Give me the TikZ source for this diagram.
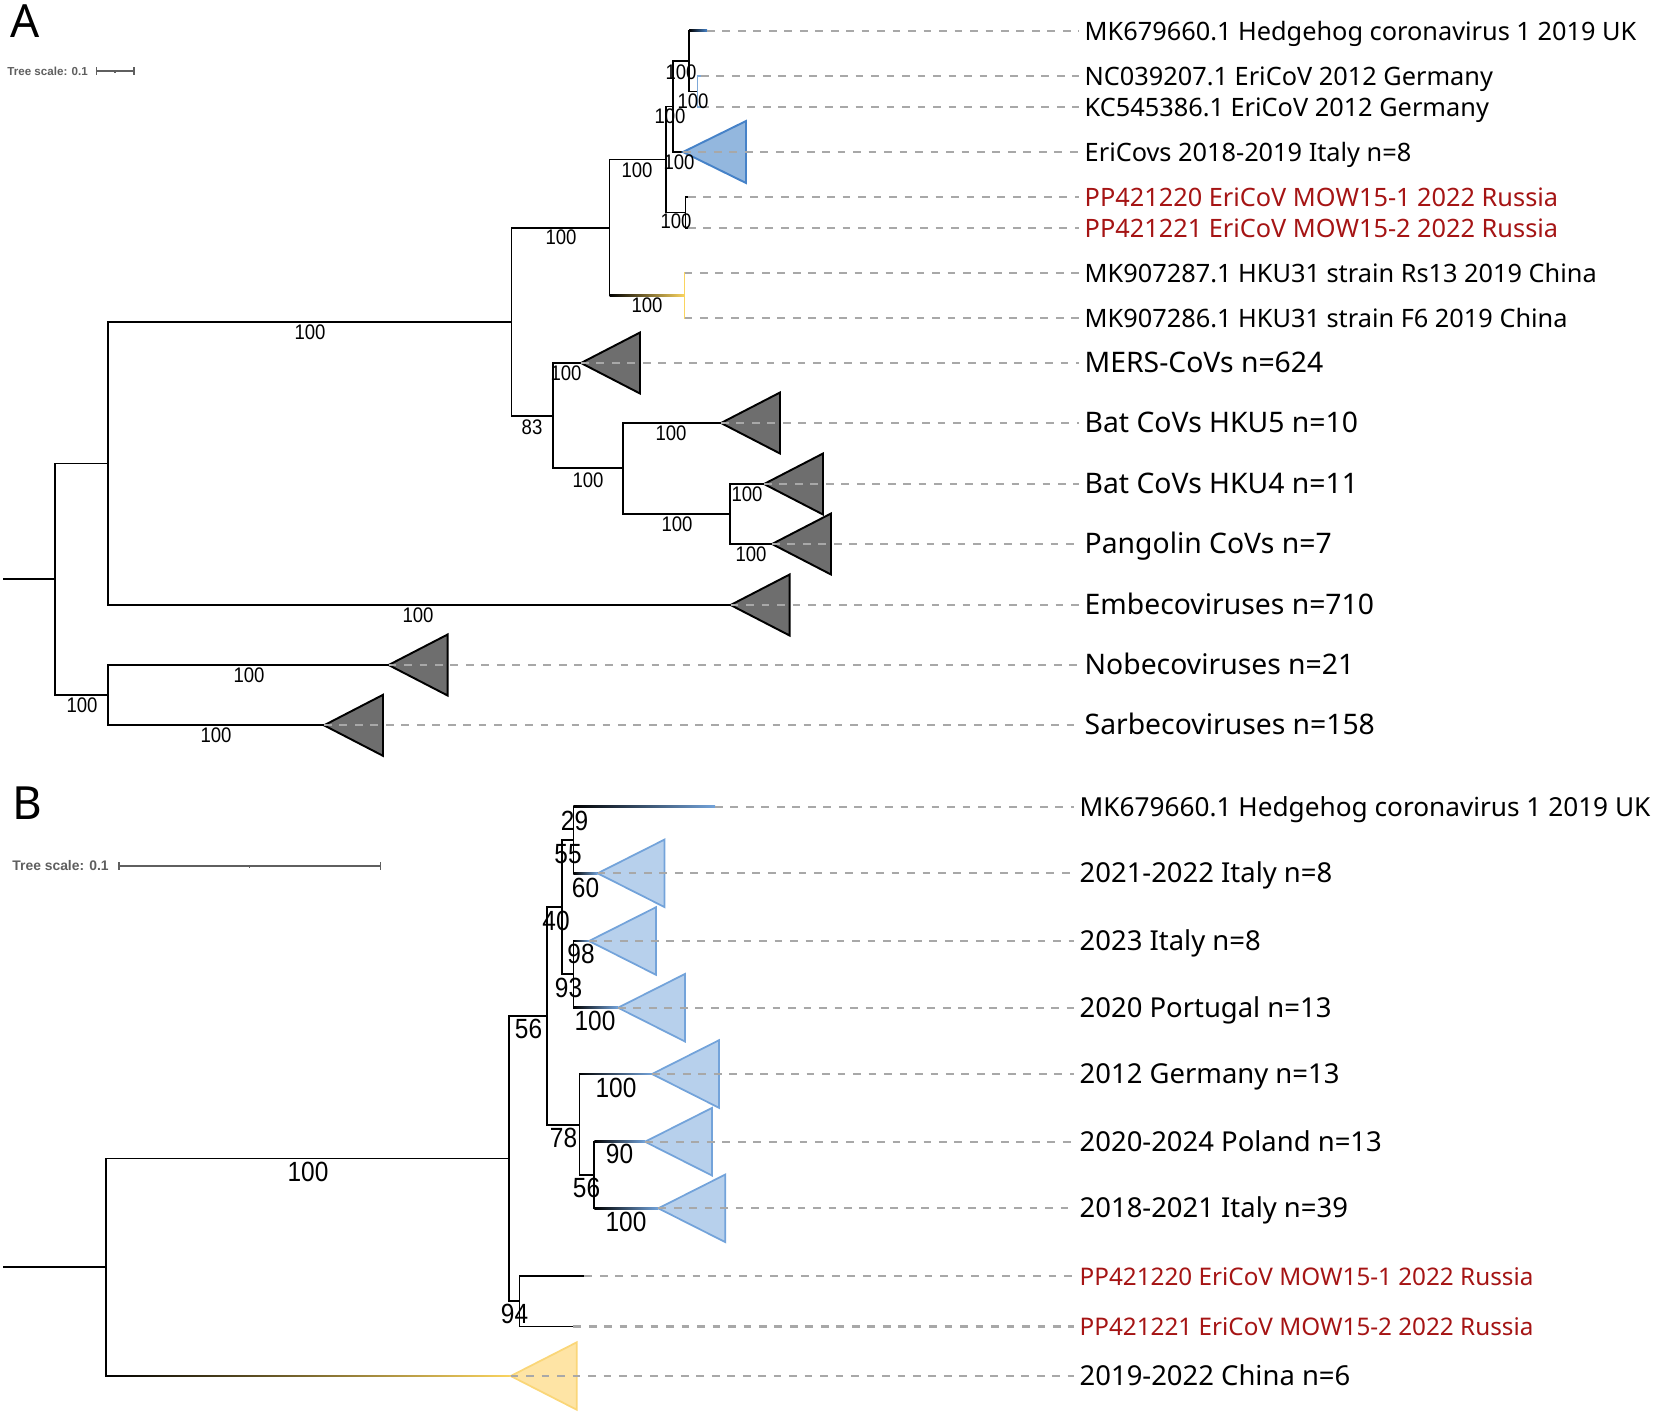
\documentclass[tikz,border=0pt]{standalone}
\usepackage{fontspec}
\setmainfont{Noto Sans}
\newfontfamily\numfont[FakeStretch=0.88]{Liberation Sans}
\newfontfamily\scalefont{Liberation Sans}
\usetikzlibrary{calc}

\definecolor{cladegray}{RGB}{110,110,110}
\definecolor{dashgray}{RGB}{168,168,168}
\definecolor{ruslabel}{RGB}{165,20,20}
\definecolor{itafill}{RGB}{147,183,222}
\definecolor{itadraw}{RGB}{70,130,200}
\definecolor{bfill}{RGB}{183,208,236}
\definecolor{bdraw}{RGB}{115,163,218}
\definecolor{hkuyel}{RGB}{250,212,95}
\definecolor{chinafill}{RGB}{254,228,165}
\definecolor{chinadraw}{RGB}{250,214,120}
\definecolor{scalegray}{RGB}{95,95,95}

% overlay that fades a horizontal branch from black into a colour
\newcommand{\fadebranch}[4]{%
  \shade[left color=black,right color=#3] ($(#1 |- #2)+(0,-#4)$) rectangle ($(#2)+(0,#4)$);}

\begin{document}
\begin{tikzpicture}[x=0.01cm,y=-0.01cm,
    branch/.style={line width=0.55pt,line cap=rect},
    branchB/.style={line width=0.5pt,line cap=rect},
    leafdash/.style={dashgray,line width=0.65pt,dash pattern=on 2.2pt off 2.2pt,shorten >=1.4pt},
    greyclade/.style={fill=cladegray,draw=black,line width=0.55pt},
    itaclade/.style={fill=itafill,draw=itadraw,line width=0.55pt},
    blueclade/.style={fill=bfill,draw=bdraw,line width=0.5pt},
    chinaclade/.style={fill=chinafill,draw=chinadraw,line width=0.5pt},
    leafA/.style={anchor=mid west,inner sep=0pt,font=\fontsize{7.2}{8}\selectfont},
    cladeA/.style={anchor=mid west,inner sep=0pt,font=\fontsize{8.05}{9}\selectfont},
    leafB/.style={anchor=mid west,inner sep=0pt,font=\fontsize{7.8}{9}\selectfont},
    supA/.style={inner sep=0pt,font=\numfont\fontsize{6}{6}\selectfont},
    supB/.style={inner sep=0pt,font=\numfont\fontsize{7.9}{8}\selectfont},
    scaletext/.style={anchor=west,inner sep=0pt,text=scalegray,font=\scalefont\bfseries#1},
    panel/.style={inner sep=0pt,font=\fontsize{13}{13}\selectfont}]
  \useasboundingbox (0,0) rectangle (1654,1414);

  % ---------------- panel A ----------------
  \node[panel] (pA) at (25.5,21) {A};
  \node[scaletext={\fontsize{3.3}{4}\selectfont}] (scA) at (6.7,71) {Tree scale: 0.1};
  \coordinate (scA1) at (96.7,71);
  \coordinate (scA2) at (134,71);
  \coordinate (scAm) at (115,71);
  \draw[scalegray,line width=0.3pt] (scA1) -- (scA2);
  \draw[scalegray,line width=0.3pt] ($(scA1)+(0,-4)$) -- ($(scA1)+(0,4)$);
  \draw[scalegray,line width=0.3pt] ($(scA2)+(0,-4)$) -- ($(scA2)+(0,4)$);
  \draw[scalegray,line width=0.3pt] (scAm) -- ($(scAm)+(0,2)$);

  % inner nodes
  \coordinate (rA0) at (4,579);
  \coordinate (rA) at (55,579);
  \coordinate (nA1) at (108,463.5);
  \coordinate (nA2) at (108,695);
  \coordinate (nA3) at (511.5,322);
  \coordinate (nA4) at (609.5,228);
  \coordinate (nA5) at (553,416);
  \coordinate (nA6) at (666,159.5);
  \coordinate (nA7) at (673,106.5);
  \coordinate (nA8) at (689,61);
  \coordinate (nA9) at (697.5,91.5);
  \coordinate (nRuA) at (685.5,212.5);
  \coordinate (nHku) at (684.5,295.5);
  \coordinate (nA10) at (623,468);
  \coordinate (nA11) at (730,514);
  % tips and collapsed clades
  \coordinate (lfA1) at (707,30.7);
  \coordinate (lfA2) at (701,76);
  \coordinate (lfA3) at (701,107);
  \coordinate (tItA) at (683,152);
  \coordinate (lfA5) at (688,197);
  \coordinate (lfA6) at (688,228);
  \coordinate (lfA7) at (684.5,273);
  \coordinate (lfA8) at (684.5,318);
  \coordinate (tMers) at (581,363);
  \coordinate (tHku5) at (721,423);
  \coordinate (tHku4) at (764,484);
  \coordinate (tPang) at (772,544);
  \coordinate (tEmb) at (730.6,605);
  \coordinate (tNobe) at (388.6,665);
  \coordinate (tSarb) at (324,725.3);

  \draw[branch] (rA0) -- (rA);
  \foreach \p/\c in {rA/nA1,rA/nA2,nA1/nA3,nA1/tEmb,nA3/nA4,nA3/nA5,nA4/nA6,nA4/nHku,
      nA6/nA7,nA6/nRuA,nA7/nA8,nA7/tItA,nA8/lfA1,nA8/nA9,nRuA/lfA5,nRuA/lfA6,
      nA5/tMers,nA5/nA10,nA10/tHku5,nA10/nA11,nA11/tHku4,nA11/tPang,nA2/tNobe,nA2/tSarb}
    \draw[branch] (\p) |- (\c);
  \foreach \c in {lfA2,lfA3}
    \draw[branch,itadraw!70] (nA9) |- (\c);
  \foreach \c in {lfA7,lfA8}
    \draw[branch,hkuyel] (nHku) |- (\c);
  \fadebranch{nA8}{lfA1}{itadraw}{0.95}
  \fadebranch{nA4}{nHku}{hkuyel}{0.95}

  % collapsed clades
  \foreach \t in {tMers,tHku5,tHku4,tPang,tEmb,tNobe,tSarb}
    \filldraw[greyclade] (\t) -- +(59,-30.5) -- +(59,30.5) -- cycle;
  \filldraw[itaclade] (tItA) -- +(63,-31) -- +(63,31) -- cycle;

  % labels and leader lines
  \foreach \tip/\y/\col/\txt [count=\i] in {
      lfA1/30.7/black/MK679660.1 Hedgehog coronavirus 1 2019 UK,
      lfA2/76/black/NC039207.1 EriCoV 2012 Germany,
      lfA3/107/black/KC545386.1 EriCoV 2012 Germany,
      tItA/152/black/EriCovs 2018-2019 Italy n=8,
      lfA5/197/ruslabel/PP421220 EriCoV MOW15-1 2022 Russia,
      lfA6/228/ruslabel/PP421221 EriCoV MOW15-2 2022 Russia,
      lfA7/273/black/MK907287.1 HKU31 strain Rs13 2019 China,
      lfA8/318/black/MK907286.1 HKU31 strain F6 2019 China}{
    \node[leafA,text=\col] (lA\i) at (1084,\y) {\txt};
    \draw[leafdash] (\tip) -- (lA\i.mid west);
  }
  \foreach \tip/\y/\txt [count=\i from 9] in {
      tMers/363/MERS-CoVs n=624,
      tHku5/423/Bat CoVs HKU5 n=10,
      tHku4/484/Bat CoVs HKU4 n=11,
      tPang/544/Pangolin CoVs n=7,
      tEmb/605/Embecoviruses n=710,
      tNobe/665/Nobecoviruses n=21,
      tSarb/725.3/Sarbecoviruses n=158}{
    \node[cladeA] (lA\i) at (1084,\y) {\txt};
    \draw[leafdash] (\tip) -- (lA\i.mid west);
  }

  % bootstrap values
  \foreach \x/\y/\v [count=\i] in {681/72/100,693/101/100,670/116/100,679/162/100,
      637/170/100,676/221/100,561/237/100,647/305/100,310/332/100,566/373/100,
      532/427/83,671/433/100,588/480/100,747/494.5/100,677/524.5/100,751/554.5/100,
      418/615.5/100,249/675.5/100,216/735/100,82/705/100}
    \node[supA] (sA\i) at (\x,\y) {\v};

  % ---------------- panel B ----------------
  \node[panel] (pB) at (27.5,803) {B};
  \node[scaletext={\fontsize{3.95}{5}\selectfont}] (scB) at (11.7,866) {Tree scale: 0.1};
  \coordinate (scB1) at (119,866);
  \coordinate (scB2) at (380.5,866);
  \coordinate (scBm) at (249.5,866);
  \draw[scalegray,line width=0.3pt] (scB1) -- (scB2);
  \draw[scalegray,line width=0.3pt] ($(scB1)+(0,-4)$) -- ($(scB1)+(0,4)$);
  \draw[scalegray,line width=0.3pt] ($(scB2)+(0,-4)$) -- ($(scB2)+(0,4)$);
  \draw[scalegray,line width=0.3pt] (scBm) -- ($(scBm)+(0,2)$);

  \coordinate (rB0) at (4,1267);
  \coordinate (rB) at (106,1267);
  \coordinate (nB1) at (509.3,1158.5);
  \coordinate (nB2) at (546.7,1016);
  \coordinate (nB3) at (562,906.7);
  \coordinate (nB4) at (579.5,1125);
  \coordinate (nB5) at (573.4,840);
  \coordinate (nB6) at (573.4,974.3);
  \coordinate (nB7) at (594.3,1175);
  \coordinate (nRuB) at (519.6,1301);
  \coordinate (lfB1) at (715,806.7);
  \coordinate (tIt21) at (597.6,873.3);
  \coordinate (tIt23) at (589,941);
  \coordinate (tPort) at (618,1007.7);
  \coordinate (tGer) at (652,1074);
  \coordinate (tPol) at (645,1141.7);
  \coordinate (tIt18) at (658.3,1208.3);
  \coordinate (lfB8) at (584.3,1275.7);
  \coordinate (lfB9) at (573.3,1326.5);
  \coordinate (tChina) at (510.7,1376);

  \draw[branchB] (rB0) -- (rB);
  \foreach \p/\c in {rB/nB1,rB/tChina,nB1/nB2,nB1/nRuB,nB2/nB3,nB2/nB4,nB3/nB5,nB3/nB6,
      nB5/lfB1,nB5/tIt21,nB6/tIt23,nB6/tPort,nB4/tGer,nB4/nB7,nB7/tPol,nB7/tIt18,
      nRuB/lfB8,nRuB/lfB9}
    \draw[branchB] (\p) |- (\c);
  \fadebranch{rB}{tChina}{hkuyel}{0.88}
  \fadebranch{nB5}{lfB1}{bdraw}{0.88}
  \foreach \p/\c in {nB5/tIt21,nB6/tIt23,nB6/tPort,nB4/tGer,nB7/tPol,nB7/tIt18}{
    \fadebranch{\p}{\c}{bdraw}{0.88}
  }

  \foreach \t in {tIt21,tIt23,tPort,tGer,tPol,tIt18}
    \filldraw[blueclade] (\t) -- +(67,-33.8) -- +(67,33.8) -- cycle;
  \filldraw[chinaclade] (tChina) -- +(66,-33.7) -- +(66,33.7) -- cycle;

  \foreach \tip/\y/\col/\sz/\txt [count=\i] in {
      lfB1/806.7/black/7.45/MK679660.1 Hedgehog coronavirus 1 2019 UK,
      tIt21/873.3/black/7.8/2021-2022 Italy n=8,
      tIt23/941/black/7.8/2023 Italy n=8,
      tPort/1007.7/black/7.8/2020 Portugal n=13,
      tGer/1074/black/7.8/2012 Germany n=13,
      tPol/1141.7/black/7.8/2020-2024 Poland n=13,
      tIt18/1208.3/black/7.8/2018-2021 Italy n=39,
      lfB8/1275.7/ruslabel/6.9/PP421220 EriCoV MOW15-1 2022 Russia,
      lfB9/1326.5/ruslabel/6.9/PP421221 EriCoV MOW15-2 2022 Russia,
      tChina/1376/black/7.8/2019-2022 China n=6}{
    \node[leafB,text=\col,font=\fontsize{\sz}{9}\selectfont] (lB\i) at (1079,\y) {\txt};
    \draw[leafdash] (\tip) -- (lB\i.mid west);
  }

  \foreach \x/\y/\v [count=\i] in {308/1172/100,514.5/1314/94,528.5/1029/56,556/921/40,
      563.5/1137.5/78,568/854/55,568.5/987.5/93,574.5/821/29,585.5/887.5/60,581/954/98,
      595/1021/100,616/1087.5/100,586.5/1187.5/56,619.5/1154/90,626/1221.5/100}
    \node[supB] (sB\i) at (\x,\y) {\v};
\end{tikzpicture}
\end{document}
